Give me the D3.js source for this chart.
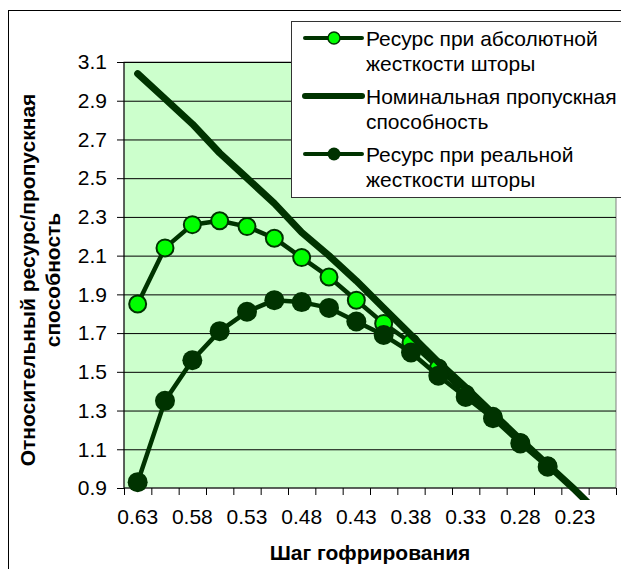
<!DOCTYPE html>
<html>
<head>
<meta charset="utf-8">
<script src="https://cdn.jsdelivr.net/npm/d3@7"></script>
<style>
  body { margin: 0; background: #fff; }
  text { font-family: "Liberation Sans", Arial, sans-serif; fill: #000; }
</style>
</head>
<body>
<div id="chart"></div>
<script>
// categories (corrugation pitch), labels shown on every second one
var categories = [0.63, 0.605, 0.58, 0.555, 0.53, 0.505, 0.48, 0.455, 0.43,
  0.405, 0.38, 0.355, 0.33, 0.305, 0.28, 0.255, 0.23, 0.205];
var xLabelCats = [0.63, 0.58, 0.53, 0.48, 0.43, 0.38, 0.33, 0.28, 0.23];
var yTicks = [0.9, 1.1, 1.3, 1.5, 1.7, 1.9, 2.1, 2.3, 2.5, 2.7, 2.9, 3.1];

// series values
var absoluteRes = [1.85, 2.14, 2.26, 2.28, 2.25, 2.19, 2.09, 1.99, 1.87, 1.75,
  1.65, 1.52, 1.385, 1.27, 1.135, 1.015];
var nominalCap = [3.04, 2.91, 2.78, 2.63, 2.50, 2.37, 2.22, 2.10, 1.97, 1.83,
  1.69, 1.55, 1.42, 1.285, 1.15, 1.02, 0.89, 0.75];
var realRes = [0.93, 1.35, 1.56, 1.71, 1.81, 1.87, 1.86, 1.83, 1.76, 1.69,
  1.60, 1.48, 1.37, 1.26, 1.13, 1.01];

var legendLabels = [
  ['Ресурс при абсолютной', 'жесткости шторы'],
  ['Номинальная пропускная', 'способность'],
  ['Ресурс при реальной', 'жесткости шторы']
];

var svgWidth = 621;
var svgHeight = 569;
var margin = { top: 62, right: 5, bottom: 81, left: 124 };
var width = svgWidth - margin.left - margin.right;   // 492
var height = svgHeight - margin.top - margin.bottom; // 426

var dark = '#003300';
var bright = '#00ff00';
var fontSize = '21px';

var svg = d3.select('#chart').append('svg')
  .attr('width', svgWidth)
  .attr('height', svgHeight);

// chart area border (only left and top are visible)
svg.append('rect')
  .attr('x', 8.5).attr('y', 10.5)
  .attr('width', 700).attr('height', 700)
  .attr('fill', 'none')
  .attr('stroke', '#000');

var chartGroup = svg.append('g')
  .attr('transform', `translate(${margin.left}, ${margin.top})`);

var xBand = d3.scaleBand()
  .domain(categories)
  .range([0, width]);

var xEdge = d3.scaleLinear()
  .domain([0, categories.length])
  .range([0, width]);

var yLinearScale = d3.scaleLinear()
  .domain([0.9, 3.1])
  .range([height, 0]);

var cx = d => xBand(d) + xBand.bandwidth() / 2;

// plot background
chartGroup.append('rect')
  .attr('width', width)
  .attr('height', height)
  .attr('fill', '#ccffcc')
  .attr('stroke', '#808080');

// gridlines
chartGroup.append('g')
  .call(d3.axisLeft(yLinearScale).tickValues(yTicks.slice(1)).tickSize(-width).tickFormat(''))
  .call(g => g.select('.domain').remove())
  .call(g => g.selectAll('line').attr('stroke', '#000'));

// y axis
chartGroup.append('g')
  .call(d3.axisLeft(yLinearScale).tickValues(yTicks).tickSize(7).tickPadding(10).tickFormat(d3.format('.1f')))
  .call(g => g.select('.domain').attr('d', `M0,0V${height}`))
  .call(g => g.selectAll('text').attr('font-size', fontSize).attr('font-family', '"Liberation Sans", Arial, sans-serif'));

// x axis ticks on category boundaries
chartGroup.append('g')
  .attr('transform', `translate(0, ${height})`)
  .call(d3.axisBottom(xEdge).tickValues(d3.range(categories.length + 1)).tickSize(7).tickFormat(''))
  .call(g => g.select('.domain').attr('d', `M0,0H${width}`));

// x labels at category centres
chartGroup.append('g')
  .attr('transform', `translate(0, ${height})`)
  .call(d3.axisBottom(xBand).tickValues(xLabelCats).tickSize(0).tickPadding(21).tickFormat(d3.format('.2f')))
  .call(g => g.select('.domain').remove())
  .call(g => g.selectAll('text').attr('font-size', fontSize).attr('font-family', '"Liberation Sans", Arial, sans-serif'));

// axis titles
chartGroup.append('text')
  .attr('x', width / 2)
  .attr('y', height + 72)
  .attr('text-anchor', 'middle')
  .attr('font-size', fontSize)
  .attr('font-weight', 'bold')
  .text('Шаг гофрирования');

var yTitle = svg.append('g')
  .attr('transform', 'translate(0, 280) rotate(-90)');
yTitle.append('text')
  .attr('x', 0).attr('y', 35)
  .attr('text-anchor', 'middle')
  .attr('font-size', fontSize)
  .attr('font-weight', 'bold')
  .text('Относительный ресурс/пропускная');
yTitle.append('text')
  .attr('x', 0).attr('y', 60)
  .attr('text-anchor', 'middle')
  .attr('font-size', fontSize)
  .attr('font-weight', 'bold')
  .text('способность');

// clip lines a bit below the axis like the original
chartGroup.append('clipPath').attr('id', 'clip')
  .append('rect').attr('x', -20).attr('y', -20)
  .attr('width', width + 20).attr('height', height + 32);

var plot = chartGroup.append('g').attr('clip-path', 'url(#clip)');

var line = d3.line()
  .x((d, i) => cx(categories[i]))
  .y(d => yLinearScale(d));

// series 1: absolute stiffness
plot.append('path')
  .datum(absoluteRes)
  .attr('d', line)
  .attr('fill', 'none')
  .attr('stroke', dark)
  .attr('stroke-width', 4.5)
  .attr('stroke-linejoin', 'round');
plot.selectAll('.absMark')
  .data(absoluteRes)
  .enter()
  .append('circle')
  .attr('cx', (d, i) => cx(categories[i]))
  .attr('cy', d => yLinearScale(d))
  .attr('r', 8.5)
  .attr('fill', bright)
  .attr('stroke', dark)
  .attr('stroke-width', 2);

// series 2: nominal capacity
plot.append('path')
  .datum(nominalCap)
  .attr('d', line)
  .attr('fill', 'none')
  .attr('stroke', dark)
  .attr('stroke-width', 7)
  .attr('stroke-linejoin', 'round')
  .attr('stroke-linecap', 'round');

// series 3: real stiffness
plot.append('path')
  .datum(realRes)
  .attr('d', line)
  .attr('fill', 'none')
  .attr('stroke', dark)
  .attr('stroke-width', 4.5)
  .attr('stroke-linejoin', 'round');
plot.selectAll('.realMark')
  .data(realRes)
  .enter()
  .append('circle')
  .attr('cx', (d, i) => cx(categories[i]))
  .attr('cy', d => yLinearScale(d))
  .attr('r', 10)
  .attr('fill', dark);

// legend
var legend = svg.append('g');
legend.append('rect')
  .attr('x', 291.5).attr('y', 21.5)
  .attr('width', 400).attr('height', 176)
  .attr('fill', '#fff')
  .attr('stroke', '#333');

legendLabels.forEach(function(lines, k) {
  var base = 46 + k * 58;
  var sy = base - 8;
  legend.append('line')
    .attr('x1', 305).attr('x2', 362)
    .attr('y1', sy).attr('y2', sy)
    .attr('stroke', dark)
    .attr('stroke-width', k === 1 ? 6 : 4)
    .attr('stroke-linecap', 'round');
  if (k === 0) {
    legend.append('circle').attr('cx', 334).attr('cy', sy).attr('r', 6)
      .attr('fill', bright).attr('stroke', dark).attr('stroke-width', 1.5);
  } else if (k === 2) {
    legend.append('circle').attr('cx', 334).attr('cy', sy).attr('r', 6.5)
      .attr('fill', dark);
  }
  lines.forEach(function(t, j) {
    legend.append('text')
      .attr('x', 366)
      .attr('y', base + j * 24.5)
      .attr('font-size', fontSize)
      .text(t);
  });
});
</script>
</body>
</html>
